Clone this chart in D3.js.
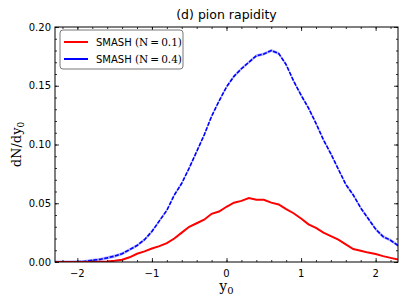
<!DOCTYPE html>
<html>
<head>
<meta charset="utf-8">
<script src="https://cdn.jsdelivr.net/npm/d3@7"></script>
<style>
  body { margin: 0; background: #fff; }
  text { font-family: "DejaVu Sans", sans-serif; }
  .serif { font-family: "DejaVu Serif", serif; }
</style>
</head>
<body>
<div id="chart"></div>
<script>
// rapidity bins
const yBins = d3.range(-23, 24).map(i => i / 10);

const smash01 = [0, 0, 0, 0, 0, 0, 0.0002, 0.0005, 0.001, 0.002, 0.004, 0.007, 0.009, 0.0115, 0.0135, 0.016,
  0.020, 0.025, 0.030, 0.033, 0.036, 0.041, 0.043, 0.047, 0.0505, 0.052, 0.0545, 0.053, 0.053, 0.0505,
  0.049, 0.045, 0.0415, 0.037, 0.032, 0.029, 0.025, 0.022, 0.019, 0.015, 0.011, 0.0095, 0.008, 0.0068,
  0.005, 0.0035, 0.002];

const smash04 = [0, 0, 0, 0.0002, 0.0005, 0.0015, 0.0022, 0.0035, 0.005, 0.007, 0.0105, 0.014, 0.019,
  0.026, 0.035, 0.044, 0.057, 0.067, 0.080, 0.094, 0.108, 0.124, 0.137, 0.149, 0.158, 0.1645, 0.170,
  0.1755, 0.177, 0.180, 0.1775, 0.168, 0.154, 0.142, 0.131, 0.118, 0.104, 0.092, 0.079, 0.066, 0.057,
  0.046, 0.037, 0.028, 0.0216, 0.0185, 0.014];

const xTicks = [-2, -1, 0, 1, 2];
const yTicks = [0, 0.05, 0.10, 0.15, 0.20];

const W = 407, H = 305;
const m = {left: 55, right: 9, top: 27, bottom: 43};

const svg = d3.select("#chart").append("svg")
    .attr("width", W)
    .attr("height", H);

const x = d3.scaleLinear().domain([-2.3, 2.3]).range([m.left, W - m.right]);
const y = d3.scaleLinear().domain([0, 0.20]).range([H - m.bottom, m.top]);

svg.append("clipPath").attr("id", "clip")
    .append("rect")
    .attr("x", m.left).attr("y", m.top)
    .attr("width", W - m.left - m.right).attr("height", H - m.top - m.bottom);

const plot = svg.append("g").attr("clip-path", "url(#clip)");

const line = (vals) => d3.line()
    .x((d, i) => x(yBins[i]))
    .y(d => y(d))(vals);

// uncertainty band for N=0.4
const band = d3.area()
    .x((d, i) => x(yBins[i]))
    .y0(d => y(Math.max(0, d - 0.0013)))
    .y1(d => y(d + 0.0013));

plot.append("path")
    .attr("d", band(smash04))
    .attr("fill", "#8080ff")
    .attr("opacity", 0.6);

plot.append("path")
    .attr("d", line(smash04))
    .attr("fill", "none")
    .attr("stroke", "#0000ff")
    .attr("stroke-width", 1.6)
    .attr("stroke-dasharray", "4,1.5");

plot.append("path")
    .attr("d", line(smash01))
    .attr("fill", "none")
    .attr("stroke", "#ff0000")
    .attr("stroke-width", 2);

// axes with inward ticks on all sides
const tickLen = 4, minorLen = 2;
function axis(gen, scale, ticks, len, tx, ty) {
    return svg.append("g")
        .attr("transform", `translate(${tx},${ty})`)
        .call(gen(scale).tickValues(ticks).tickSize(len).tickFormat(""))
        .call(g => g.select(".domain").remove())
        .call(g => g.selectAll("line").attr("stroke", "#000").attr("stroke-width", 0.8));
}
const xMinor = d3.range(-22, 23, 2).map(i => i / 10);
const yMinor = d3.range(0, 21).map(i => i / 100);

axis(d3.axisTop, x, xTicks, tickLen, 0, H - m.bottom);
axis(d3.axisTop, x, xMinor, minorLen, 0, H - m.bottom);
axis(d3.axisBottom, x, xTicks, tickLen, 0, m.top);
axis(d3.axisBottom, x, xMinor, minorLen, 0, m.top);
axis(d3.axisRight, y, yTicks, tickLen, m.left, 0);
axis(d3.axisRight, y, yMinor, minorLen, m.left, 0);
axis(d3.axisLeft, y, yTicks, tickLen, W - m.right, 0);
axis(d3.axisLeft, y, yMinor, minorLen, W - m.right, 0);

// tick labels
svg.append("g").selectAll("text")
    .data(xTicks).enter().append("text")
    .attr("x", d => x(d))
    .attr("y", H - m.bottom + 15)
    .attr("text-anchor", "middle")
    .attr("font-size", 10)
    .text(d => d < 0 ? "\u2212" + Math.abs(d) : d);

svg.append("g").selectAll("text")
    .data(yTicks).enter().append("text")
    .attr("x", m.left - 4)
    .attr("y", d => y(d))
    .attr("dy", "0.35em")
    .attr("text-anchor", "end")
    .attr("font-size", 10)
    .text(d => d3.format(".2f")(d));

// frame
svg.append("rect")
    .attr("x", m.left).attr("y", m.top)
    .attr("width", W - m.left - m.right).attr("height", H - m.top - m.bottom)
    .attr("fill", "none").attr("stroke", "#000").attr("stroke-width", 1);

// title and axis labels
svg.append("text")
    .attr("x", (m.left + W - m.right) / 2)
    .attr("y", 19)
    .attr("text-anchor", "middle")
    .attr("font-size", 12.5)
    .text("(d) pion rapidity");

const xl = svg.append("text")
    .attr("class", "serif")
    .attr("x", (m.left + W - m.right) / 2)
    .attr("y", 291)
    .attr("text-anchor", "middle")
    .attr("font-size", 14);
xl.append("tspan").text("y");
xl.append("tspan").attr("font-size", 10).attr("dy", 3).text("0");

const yl = svg.append("text")
    .attr("class", "serif")
    .attr("transform", `translate(21,${(m.top + H - m.bottom) / 2}) rotate(-90)`)
    .attr("text-anchor", "middle")
    .attr("font-size", 13);
yl.append("tspan").text("dN/dy");
yl.append("tspan").attr("font-size", 9).attr("dy", 3).text("0");

// legend
const legendNames = ["0.1", "0.4"];
const legendColors = ["#ff0000", "#0000ff"];
const lg = svg.append("g").attr("transform", "translate(60,30)");
lg.append("rect")
    .attr("width", 123).attr("height", 39)
    .attr("rx", 3)
    .attr("fill", "#fff").attr("stroke", "#555").attr("stroke-width", 0.8);

const items = lg.selectAll(".item")
    .data(legendNames).enter().append("g")
    .attr("transform", (d, i) => `translate(0,${12 + i * 17})`);
items.append("line")
    .attr("x1", 4).attr("x2", 28)
    .attr("stroke", (d, i) => legendColors[i])
    .attr("stroke-width", 2);
const lt = items.append("text")
    .attr("x", 36).attr("dy", "0.35em")
    .attr("font-size", 10);
lt.append("tspan").text("SMASH ");
lt.append("tspan").attr("class", "serif").attr("font-size", 10.5)
    .text(d => "(N\u2009=\u2009" + d + ")");
</script>
</body>
</html>
